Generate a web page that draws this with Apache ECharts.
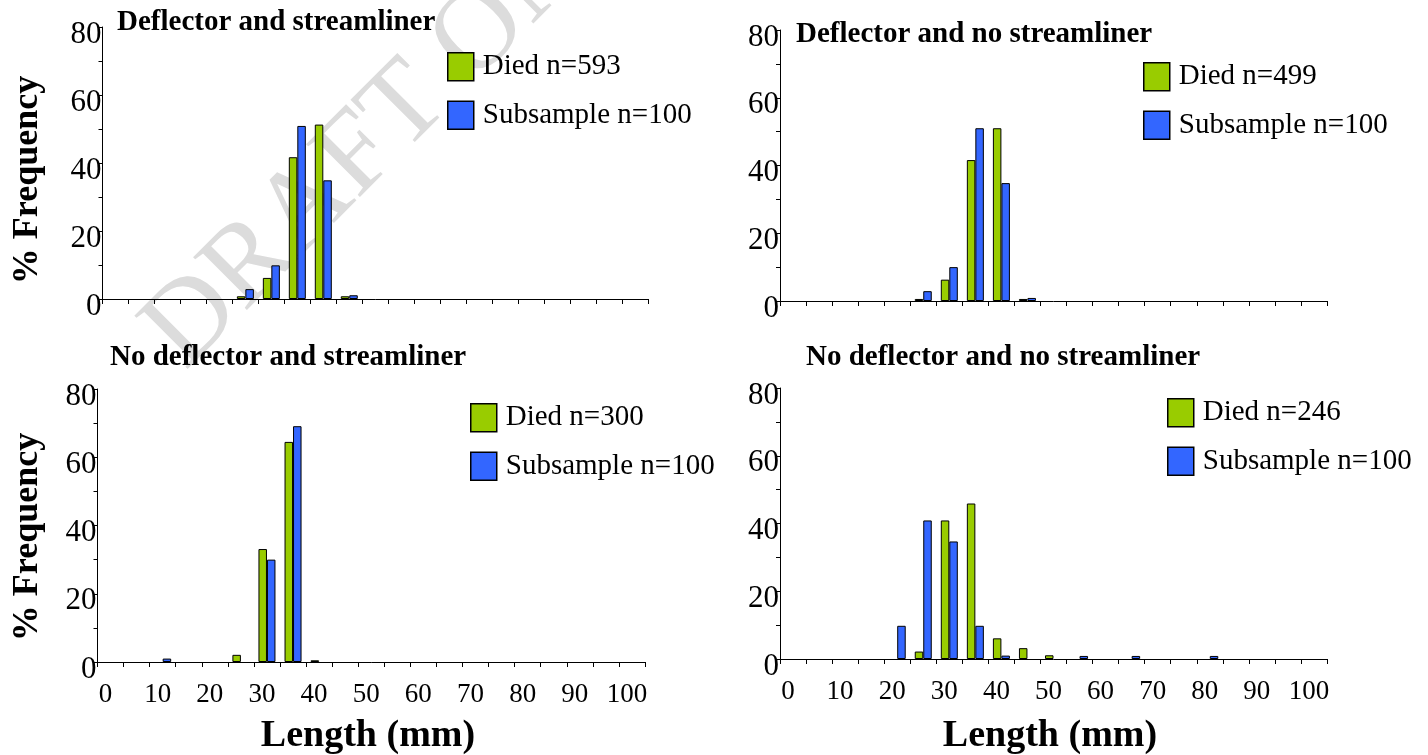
<!DOCTYPE html>
<html>
<head>
<meta charset="utf-8">
<script src="https://cdn.jsdelivr.net/npm/echarts@6/dist/echarts.min.js"></script>
<style>
html,body{margin:0;padding:0;background:#fff;}
#chart{width:1428px;height:755px;}
</style>
</head>
<body>
<div id="chart"></div>
<script>
// Length bins (lower edge, mm), 5 mm wide
const binLow = [0,5,10,15,20,25,30,35,40,45,50,55,60,65,70,75,80,85,90,95,100];
const xTickLabels = [0,10,20,30,40,50,60,70,80,90,100];
const yTickLabels = [0,20,40,60,80];

const panelTitles = [
  'Deflector and streamliner',
  'Deflector and no streamliner',
  'No deflector and streamliner',
  'No deflector and no streamliner'
];
const diedNames = ['Died n=593','Died n=499','Died n=300','Died n=246'];
const subNames  = ['Subsample n=100','Subsample n=100 ','Subsample n=100  ','Subsample n=100   '];

// % frequency per bin (null = no bar)
const p1Died = [null,null,null,null,null,0.8,6.2,41.7,51.3,0.8,null,null,null,null,null,null,null,null,null,null,null];
const p1Sub  = [null,null,null,null,null,2.9,9.9,50.9,34.9,1.1,null,null,null,null,null,null,null,null,null,null,null];
const p2Died = [null,null,null,null,null,0.6,6.3,41.6,51.0,0.6,null,null,null,null,null,null,null,null,null,null,null];
const p2Sub  = [null,null,null,null,null,2.9,10.0,51.0,34.8,0.9,null,null,null,null,null,null,null,null,null,null,null];
const p3Died = [null,null,null,null,null,2.1,33.1,64.5,0.5,null,null,null,null,null,null,null,null,null,null,null,null];
const p3Sub  = [null,null,1.0,null,null,null,30.0,69.1,null,null,null,null,null,null,null,null,null,null,null,null,null];
const p4Died = [null,null,null,null,null,2.2,40.9,45.9,6.1,3.2,1.1,null,null,null,null,null,null,null,null,null,null];
const p4Sub  = [null,null,null,null,9.8,40.9,34.7,9.8,1.0,null,null,0.9,null,0.9,null,null,0.9,null,null,null,null];

const diedData = [p1Died,p2Died,p3Died,p4Died];
const subData  = [p1Sub,p2Sub,p3Sub,p4Sub];

const SERIF = 'Liberation Serif';
const GREEN = '#99CC00';
const BLUE = '#3366FF';

const grids = [
  {left:102.5, top:27, width:545.5, height:272},
  {left:780, top:30, width:547, height:271},
  {left:97.5, top:389, width:547.5, height:273},
  {left:780, top:388, width:547, height:271}
];
const legendPos = [
  {left:447, top:52},
  {left:1143, top:62},
  {left:470, top:403},
  {left:1167, top:398}
];
const titlePos = [[117,23],[796,35],[110,358],[806,358]];

function toPoints(arr){
  const out = [];
  arr.forEach((v,i)=>{ if(v!==null) out.push([binLow[i]+2.5, v]); });
  return out;
}

const xAxes = [], yAxes = [], series = [], legends = [], graphics = [];
for(let i=0;i<4;i++){
  const bottomRow = i>=2;
  xAxes.push({
    gridIndex:i, type:'value', min:0, max:105, interval:5,
    axisLine:{show:true, onZero:false, lineStyle:{color:'#000', width:1}},
    axisTick:{show:true, length:5, lineStyle:{color:'#000', width:1}},
    axisLabel:{show:bottomRow, formatter:v => xTickLabels.indexOf(v)>=0 ? String(v) : '',
      fontSize:27, fontFamily:SERIF, color:'#000', margin:19, padding:[0,0,0,16]},
    splitLine:{show:false}
  });
  yAxes.push({
    gridIndex:i, type:'value', min:0, max:80, interval:10,
    axisLine:{show:true, lineStyle:{color:'#000', width:1}},
    axisTick:{show:true, length:4, lineStyle:{color:'#000', width:1}},
    axisLabel:{formatter:v => yTickLabels.indexOf(v)>=0 ? String(v) : '',
      fontSize:31, fontFamily:SERIF, color:'#000', margin:1,
      verticalAlign:'top', lineHeight:15},
    splitLine:{show:false}
  });
  series.push({
    name:diedNames[i], type:'bar', xAxisIndex:i, yAxisIndex:i,
    data:toPoints(diedData[i]), barWidth:8.5, barGap:'0%',
    itemStyle:{color:GREEN, borderColor:'#000', borderWidth:1}
  });
  series.push({
    name:subNames[i], type:'bar', xAxisIndex:i, yAxisIndex:i,
    data:toPoints(subData[i]), barWidth:8.5, barGap:'0%',
    itemStyle:{color:BLUE, borderColor:'#000', borderWidth:1}
  });
  legends.push({
    left:legendPos[i].left, top:legendPos[i].top, orient:'vertical', padding:0,
    data:[diedNames[i], subNames[i]], icon:'rect',
    itemWidth:26, itemHeight:28, itemGap:19,
    selectedMode:false,
    itemStyle:{borderColor:'#000', borderWidth:1.5},
    textStyle:{fontSize:29, fontFamily:SERIF, color:'#000', padding:[0,0,0,4]},
    formatter: n => n.trim()
  });
  graphics.push({
    type:'text', x:titlePos[i][0], y:titlePos[i][1], z:10,
    style:{text:panelTitles[i], font:'bold 29px "Liberation Serif"', fill:'#000', textAlign:'left', textVerticalAlign:'middle'}
  });
}

// axis titles
graphics.push({type:'text', x:28, y:180, rotation:Math.PI/2, z:10,
  style:{text:'% Frequency', font:'bold 36px "Liberation Serif"', fill:'#000', textAlign:'center', textVerticalAlign:'middle'}});
graphics.push({type:'text', x:28, y:537, rotation:Math.PI/2, z:10,
  style:{text:'% Frequency', font:'bold 36px "Liberation Serif"', fill:'#000', textAlign:'center', textVerticalAlign:'middle'}});
graphics.push({type:'text', x:368, y:736, z:10,
  style:{text:'Length (mm)', font:'bold 38px "Liberation Serif"', fill:'#000', textAlign:'center', textVerticalAlign:'middle'}});
graphics.push({type:'text', x:1050, y:736, z:10,
  style:{text:'Length (mm)', font:'bold 38px "Liberation Serif"', fill:'#000', textAlign:'center', textVerticalAlign:'middle'}});
// watermark
graphics.push({type:'text', x:164, y:350, rotation:0.785, z:-10, silent:true,
  style:{text:'DRAFT ONLY', font:'115px "Liberation Serif"', fill:'#dcdcdc', textAlign:'left', textVerticalAlign:'middle'}});

const chart = echarts.init(document.getElementById('chart'), null, {renderer:'canvas'});
chart.setOption({
  animation:false,
  backgroundColor:'#fff',
  grid:grids,
  xAxis:xAxes,
  yAxis:yAxes,
  legend:legends,
  series:series,
  graphic:graphics
});
</script>
</body>
</html>
